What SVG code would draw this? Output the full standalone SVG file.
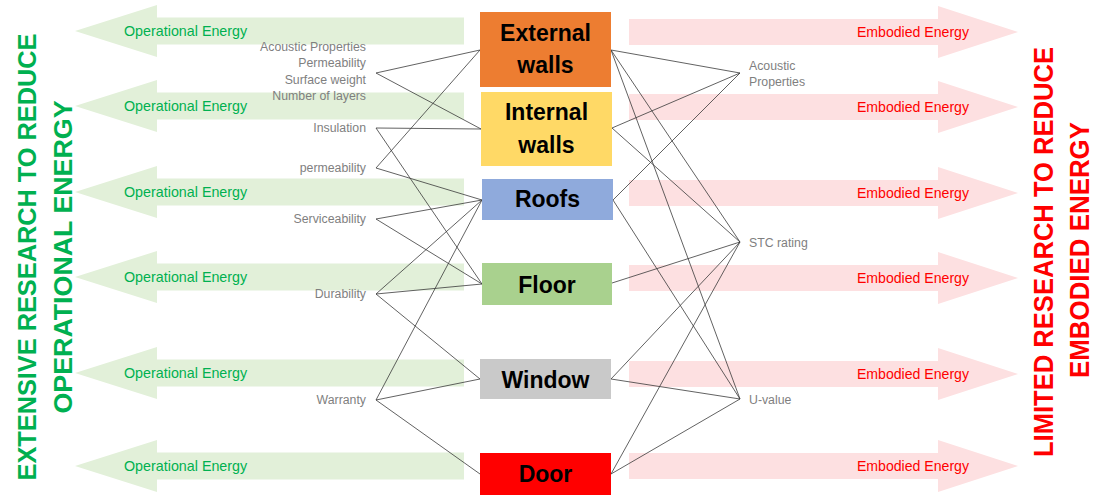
<svg xmlns="http://www.w3.org/2000/svg" xmlns:xlink="http://www.w3.org/1999/xlink" width="1095" height="497" viewBox="0 0 1095 497">
<style>
.ga{fill:#E2F0D9}
.ra{fill:#FDE0E1}
.gt{font-family:"Liberation Sans",Arial,sans-serif;font-size:14.3px;fill:#00B050}
.rt{font-family:"Liberation Sans",Arial,sans-serif;font-size:14.1px;fill:#FF0000;text-anchor:end}
.lbl{font-family:"Liberation Sans",Arial,sans-serif;font-size:12.3px;fill:#7F7F7F}
.ll{text-anchor:end}
.bx{font-family:"Liberation Sans",Arial,sans-serif;font-size:23px;font-weight:bold;fill:#000;text-anchor:middle}
.vt{font-family:"Liberation Sans",Arial,sans-serif;font-size:27.5px;font-weight:bold;text-anchor:middle}
.vl{font-size:26.5px}
.con line{stroke:#3a3a3a;stroke-width:0.8}
</style>
<defs>
<path id="garr" d="M464,-13.5 H157 V-26 L75,0 L157,26 V13.5 H464 Z"/>
<path id="rarr" d="M629,-13 H938 V-26 L1018,0 L938,26 V13 H629 Z"/>
</defs>
<g id="green-arrows">
<use xlink:href="#garr" class="ga" y="31"/>
<use xlink:href="#garr" class="ga" y="106"/>
<use xlink:href="#garr" class="ga" y="192"/>
<use xlink:href="#garr" class="ga" y="277"/>
<use xlink:href="#garr" class="ga" y="373"/>
<use xlink:href="#garr" class="ga" y="466"/>
<text class="gt" x="124" y="36">Operational Energy</text>
<text class="gt" x="124" y="111">Operational Energy</text>
<text class="gt" x="124" y="197">Operational Energy</text>
<text class="gt" x="124" y="282">Operational Energy</text>
<text class="gt" x="124" y="378">Operational Energy</text>
<text class="gt" x="124" y="471">Operational Energy</text>
</g>
<g id="red-arrows">
<use xlink:href="#rarr" class="ra" y="32"/>
<use xlink:href="#rarr" class="ra" y="107"/>
<use xlink:href="#rarr" class="ra" y="193"/>
<use xlink:href="#rarr" class="ra" y="278"/>
<use xlink:href="#rarr" class="ra" y="374"/>
<use xlink:href="#rarr" class="ra" y="466"/>
<text class="rt" x="969" y="37">Embodied Energy</text>
<text class="rt" x="969" y="112">Embodied Energy</text>
<text class="rt" x="969" y="198">Embodied Energy</text>
<text class="rt" x="969" y="283">Embodied Energy</text>
<text class="rt" x="969" y="379">Embodied Energy</text>
<text class="rt" x="969" y="471">Embodied Energy</text>
</g>
<g id="side-titles">
<text class="vt vl" fill="#00B050" transform="translate(36,257) rotate(-90)" textLength="447" lengthAdjust="spacingAndGlyphs">EXTENSIVE RESEARCH TO REDUCE</text>
<text class="vt vl" fill="#00B050" transform="translate(72,257) rotate(-90)" textLength="313" lengthAdjust="spacingAndGlyphs">OPERATIONAL ENERGY</text>
<text class="vt" fill="#FF0000" transform="translate(1053,252) rotate(-90)" textLength="410" lengthAdjust="spacingAndGlyphs">LIMITED RESEARCH TO REDUCE</text>
<text class="vt" fill="#FF0000" transform="translate(1089,250) rotate(-90)" textLength="256" lengthAdjust="spacingAndGlyphs">EMBODIED ENERGY</text>
</g>
<g id="connectors" class="con">
<line x1="376" y1="73" x2="480" y2="50"/>
<line x1="376" y1="73" x2="481" y2="129"/>
<line x1="376" y1="128" x2="481" y2="129"/>
<line x1="376" y1="128" x2="482" y2="284"/>
<line x1="376" y1="168" x2="480" y2="50"/>
<line x1="376" y1="168" x2="482" y2="200"/>
<line x1="376" y1="219" x2="482" y2="200"/>
<line x1="376" y1="219" x2="482" y2="284"/>
<line x1="376" y1="294" x2="482" y2="200"/>
<line x1="376" y1="294" x2="482" y2="284"/>
<line x1="376" y1="294" x2="480" y2="379"/>
<line x1="376" y1="400" x2="482" y2="200"/>
<line x1="376" y1="400" x2="480" y2="379"/>
<line x1="376" y1="400" x2="480" y2="474"/>
<line x1="611" y1="50" x2="740" y2="73"/>
<line x1="611" y1="50" x2="740" y2="242"/>
<line x1="611" y1="50" x2="740" y2="399"/>
<line x1="612" y1="128" x2="740" y2="73"/>
<line x1="612" y1="128" x2="740" y2="242"/>
<line x1="613" y1="200" x2="740" y2="73"/>
<line x1="613" y1="200" x2="740" y2="399"/>
<line x1="612" y1="283" x2="740" y2="242"/>
<line x1="611" y1="379" x2="740" y2="242"/>
<line x1="611" y1="379" x2="740" y2="399"/>
<line x1="611" y1="474" x2="740" y2="242"/>
<line x1="611" y1="474" x2="740" y2="399"/>
</g>
<g id="left-labels">
<text class="lbl ll" x="366" y="51">Acoustic Properties</text>
<text class="lbl ll" x="366" y="67">Permeability</text>
<text class="lbl ll" x="366" y="84">Surface weight</text>
<text class="lbl ll" x="366" y="100">Number of layers</text>
<text class="lbl ll" x="366" y="132">Insulation</text>
<text class="lbl ll" x="366" y="172">permeability</text>
<text class="lbl ll" x="366" y="223">Serviceability</text>
<text class="lbl ll" x="366" y="298">Durability</text>
<text class="lbl ll" x="366" y="404">Warranty</text>
</g>
<g id="right-labels">
<text class="lbl" x="749" y="70">Acoustic</text>
<text class="lbl" x="749" y="86">Properties</text>
<text class="lbl" x="749" y="247">STC rating</text>
<text class="lbl" x="749" y="404">U-value</text>
</g>
<g id="external-walls">
<rect x="480" y="12" width="131" height="75" fill="#ED7D31"/>
<text class="bx" x="545.5" y="41">External</text>
<text class="bx" x="545.5" y="73">walls</text>
</g>
<g id="internal-walls">
<rect x="481" y="92" width="131" height="74" fill="#FFD966"/>
<text class="bx" x="546.5" y="120">Internal</text>
<text class="bx" x="546.5" y="153">walls</text>
</g>
<g id="roofs">
<rect x="482" y="179" width="131" height="41" fill="#8FAADC"/>
<text class="bx" x="547.5" y="207">Roofs</text>
</g>
<g id="floor">
<rect x="482" y="263" width="130" height="42" fill="#A9D18E"/>
<text class="bx" x="547" y="293">Floor</text>
</g>
<g id="window">
<rect x="480" y="359" width="131" height="40" fill="#C9C9C9"/>
<text class="bx" x="545.5" y="388">Window</text>
</g>
<g id="door">
<rect x="480" y="453" width="131" height="42" fill="#FF0000"/>
<text class="bx" x="545.5" y="482">Door</text>
</g>
</svg>
